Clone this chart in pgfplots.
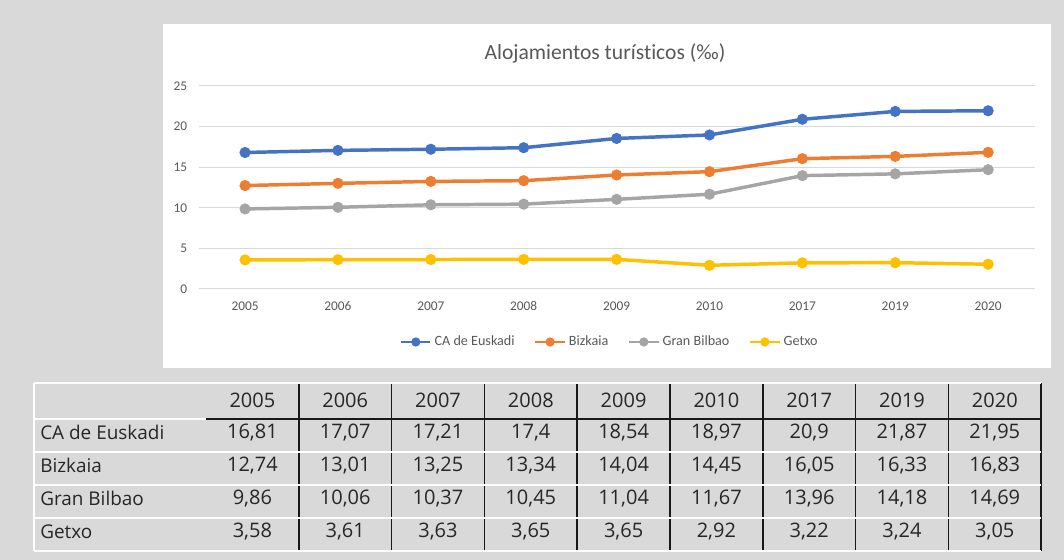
\documentclass[border=0pt]{standalone}
\usepackage{fontspec}
\setmainfont[Ligatures={NoCommon}]{Carlito}
\newfontfamily\tablefont{Open Sans}
\usepackage{pgfplots}
\pgfplotsset{compat=1.18}
\usepackage{pgfplotstable}
\definecolor{bg}{HTML}{D9D9D9}
\definecolor{cblue}{HTML}{4472C4}
\definecolor{corange}{HTML}{ED7D31}
\definecolor{cgray}{HTML}{A5A5A5}
\definecolor{cyellow}{HTML}{FFC000}
\definecolor{txt}{HTML}{595959}
\definecolor{gridc}{HTML}{D9D9D9}
\definecolor{tabtxt}{HTML}{262626}

\pgfplotstableread{
x ca bi gb ge
0 16.81 12.74 9.86 3.58
1 17.07 13.01 10.06 3.61
2 17.21 13.25 10.37 3.63
3 17.40 13.34 10.45 3.65
4 18.54 14.04 11.04 3.65
5 18.97 14.45 11.67 2.92
6 20.90 16.05 13.96 3.22
7 21.87 16.33 14.18 3.24
8 21.95 16.83 14.69 3.05
}\datatable

\begin{document}
\begin{tikzpicture}[x=1pt,y=1pt]
\fill[bg] (0,0) rectangle (798,420);
\fill[white] (122.25,144) rectangle (788.25,402);
\node[text=txt, font=\fontsize{16.2}{19}\selectfont] at (453.75,380) {Alojamientos turísticos (‰)};
\begin{axis}[
  at={(148.95pt,203.25pt)}, anchor=south west,
  scale only axis, width=627pt, height=152.25pt,
  xmin=-0.5, xmax=8.5, ymin=0, ymax=25,
  xtick={0,...,8}, xticklabels={2005,2006,2007,2008,2009,2010,2017,2019,2020},
  ytick={0,5,...,25},
  ymajorgrids, grid style={gridc, line width=0.75pt},
  axis line style={draw=none},
  major tick length=0pt,
  tick label style={font=\fontsize{10}{12}\selectfont, text=txt},
  /pgf/number format/assume math mode=true,
  xticklabel style={yshift=-6pt},
  yticklabel style={xshift=-5pt},
  legend columns=4,
  legend style={draw=none, fill=none, at={(0.492,-0.261)}, anchor=center,
    font=\fontsize{10.6}{12}\selectfont, text=txt,
    /tikz/every even column/.append style={column sep=12.5pt}},
  legend image code/.code={\draw[mark repeat=2,mark phase=2,line width=2.2pt,mark size=2.3pt] plot coordinates {(0pt,0pt) (11pt,0pt) (22pt,0pt)};},
  every axis plot/.append style={line width=2.6pt, mark=*, mark size=2.8pt},
  clip=false,
]
\addplot[cblue, mark options={fill=cblue}] table[x=x,y=ca]{\datatable};
\addlegendentry{CA de Euskadi}
\addplot[corange, mark options={fill=corange}] table[x=x,y=bi]{\datatable};
\addlegendentry{Bizkaia}
\addplot[cgray, mark options={fill=cgray}] table[x=x,y=gb]{\datatable};
\addlegendentry{Gran Bilbao}
\addplot[cyellow, mark options={fill=cyellow}] table[x=x,y=ge]{\datatable};
\addlegendentry{Getxo}
\end{axis}

% table
\foreach \i in {1,...,9} \draw[black!90, line width=1.1pt] ({154.5+69.6*\i},6.75) -- ({154.5+69.6*\i},132.75);
\draw[black!90, line width=1.1pt] (154.5,105.75) -- (780.9,105.75);
\draw[white, line width=1.5pt] (25.5,132.75) -- (780.9,132.75);
\draw[white, line width=1.5pt] (25.5,6.75) -- (780.9,6.75);
\draw[white, line width=1.5pt] (25.5,6.75) -- (25.5,132.75);
\draw[white, line width=1.5pt] (25.5,105.75) -- (154.5,105.75);
\foreach \yy in {81,56.25,31.5} \draw[white, line width=1.5pt] (25.5,\yy) -- (780.9,\yy);
\begin{scope}[every node/.style={text=tabtxt, font=\tablefont\fontsize{15}{17}\selectfont, inner sep=0pt}]
\foreach \v [count=\i] in {2005,2006,2007,2008,2009,2010,2017,2019,2020}
  \node at ({154.5+69.6*(\i-0.5)},120) {\v};
\begin{scope}[every node/.style={text=tabtxt, font=\tablefont\fontsize{14.2}{17}\selectfont, inner sep=0pt}]
\node[anchor=west] at (30,95.6) {CA de Euskadi};
\node[anchor=west] at (30,70.8) {Bizkaia};
\node[anchor=west] at (30,46.1) {Gran Bilbao};
\node[anchor=west] at (30,21.3) {Getxo};
\end{scope}
\foreach \v [count=\i] in {{16,81},{17,07},{17,21},{17,4},{18,54},{18,97},{20,9},{21,87},{21,95}}
  \node at ({154.5+69.6*(\i-0.5)},95.6) {\v};
\foreach \v [count=\i] in {{12,74},{13,01},{13,25},{13,34},{14,04},{14,45},{16,05},{16,33},{16,83}}
  \node at ({154.5+69.6*(\i-0.5)},70.8) {\v};
\foreach \v [count=\i] in {{9,86},{10,06},{10,37},{10,45},{11,04},{11,67},{13,96},{14,18},{14,69}}
  \node at ({154.5+69.6*(\i-0.5)},46.1) {\v};
\foreach \v [count=\i] in {{3,58},{3,61},{3,63},{3,65},{3,65},{2,92},{3,22},{3,24},{3,05}}
  \node at ({154.5+69.6*(\i-0.5)},21.3) {\v};
\end{scope}
\end{tikzpicture}
\end{document}
